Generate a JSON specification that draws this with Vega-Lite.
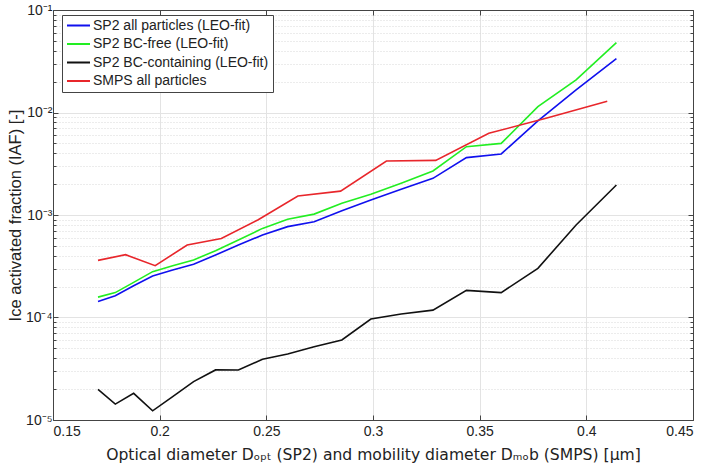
{
  "$schema": "https://vega.github.io/schema/vega-lite/v6.json",
  "width": 640,
  "height": 410,
  "autosize": {"type": "none"},
  "padding": {"left": 53, "top": 10, "right": 16, "bottom": 53},
  "background": "white",
  "config": {
    "view": {"stroke": null},
    "font": "Liberation Sans",
    "axis": {"labelFont": "Liberation Sans", "titleFont": "Liberation Sans", "labelColor": "#222", "titleColor": "#222", "titleFontWeight": "normal", "domainColor": "#444", "tickColor": "#444"}
  },
  "data": {
    "values": [
      {"s": "SP2 all particles (LEO-fit)", "d": 0.1711, "iaf": 0.000143},
      {"s": "SP2 all particles (LEO-fit)", "d": 0.1792, "iaf": 0.000163},
      {"s": "SP2 all particles (LEO-fit)", "d": 0.1878, "iaf": 0.000204},
      {"s": "SP2 all particles (LEO-fit)", "d": 0.1967, "iaf": 0.000254},
      {"s": "SP2 all particles (LEO-fit)", "d": 0.2061, "iaf": 0.00029},
      {"s": "SP2 all particles (LEO-fit)", "d": 0.2159, "iaf": 0.00033},
      {"s": "SP2 all particles (LEO-fit)", "d": 0.2262, "iaf": 0.000407},
      {"s": "SP2 all particles (LEO-fit)", "d": 0.2369, "iaf": 0.00051},
      {"s": "SP2 all particles (LEO-fit)", "d": 0.2482, "iaf": 0.000638},
      {"s": "SP2 all particles (LEO-fit)", "d": 0.26, "iaf": 0.00077},
      {"s": "SP2 all particles (LEO-fit)", "d": 0.2724, "iaf": 0.00086},
      {"s": "SP2 all particles (LEO-fit)", "d": 0.2854, "iaf": 0.0011},
      {"s": "SP2 all particles (LEO-fit)", "d": 0.299, "iaf": 0.0014},
      {"s": "SP2 all particles (LEO-fit)", "d": 0.3132, "iaf": 0.00178},
      {"s": "SP2 all particles (LEO-fit)", "d": 0.3281, "iaf": 0.00228},
      {"s": "SP2 all particles (LEO-fit)", "d": 0.3438, "iaf": 0.00363},
      {"s": "SP2 all particles (LEO-fit)", "d": 0.3601, "iaf": 0.00394},
      {"s": "SP2 all particles (LEO-fit)", "d": 0.3773, "iaf": 0.0083},
      {"s": "SP2 all particles (LEO-fit)", "d": 0.3952, "iaf": 0.0166},
      {"s": "SP2 all particles (LEO-fit)", "d": 0.4141, "iaf": 0.0335},
      {"s": "SP2 BC-free (LEO-fit)", "d": 0.1711, "iaf": 0.000158},
      {"s": "SP2 BC-free (LEO-fit)", "d": 0.1792, "iaf": 0.000175},
      {"s": "SP2 BC-free (LEO-fit)", "d": 0.1878, "iaf": 0.00022},
      {"s": "SP2 BC-free (LEO-fit)", "d": 0.1967, "iaf": 0.00028},
      {"s": "SP2 BC-free (LEO-fit)", "d": 0.2061, "iaf": 0.00032},
      {"s": "SP2 BC-free (LEO-fit)", "d": 0.2159, "iaf": 0.000364},
      {"s": "SP2 BC-free (LEO-fit)", "d": 0.2262, "iaf": 0.000449},
      {"s": "SP2 BC-free (LEO-fit)", "d": 0.2369, "iaf": 0.00057},
      {"s": "SP2 BC-free (LEO-fit)", "d": 0.2482, "iaf": 0.00074},
      {"s": "SP2 BC-free (LEO-fit)", "d": 0.26, "iaf": 0.00091},
      {"s": "SP2 BC-free (LEO-fit)", "d": 0.2724, "iaf": 0.00102},
      {"s": "SP2 BC-free (LEO-fit)", "d": 0.2854, "iaf": 0.0013},
      {"s": "SP2 BC-free (LEO-fit)", "d": 0.299, "iaf": 0.00159},
      {"s": "SP2 BC-free (LEO-fit)", "d": 0.3132, "iaf": 0.00204},
      {"s": "SP2 BC-free (LEO-fit)", "d": 0.3281, "iaf": 0.00269},
      {"s": "SP2 BC-free (LEO-fit)", "d": 0.3438, "iaf": 0.00464},
      {"s": "SP2 BC-free (LEO-fit)", "d": 0.3601, "iaf": 0.005},
      {"s": "SP2 BC-free (LEO-fit)", "d": 0.3773, "iaf": 0.0114},
      {"s": "SP2 BC-free (LEO-fit)", "d": 0.3952, "iaf": 0.0208},
      {"s": "SP2 BC-free (LEO-fit)", "d": 0.4141, "iaf": 0.048},
      {"s": "SP2 BC-containing (LEO-fit)", "d": 0.1711, "iaf": 0.0000199},
      {"s": "SP2 BC-containing (LEO-fit)", "d": 0.1792, "iaf": 0.0000143},
      {"s": "SP2 BC-containing (LEO-fit)", "d": 0.1878, "iaf": 0.0000182},
      {"s": "SP2 BC-containing (LEO-fit)", "d": 0.1967, "iaf": 0.0000123},
      {"s": "SP2 BC-containing (LEO-fit)", "d": 0.2061, "iaf": 0.0000169},
      {"s": "SP2 BC-containing (LEO-fit)", "d": 0.2159, "iaf": 0.0000237},
      {"s": "SP2 BC-containing (LEO-fit)", "d": 0.2262, "iaf": 0.0000308},
      {"s": "SP2 BC-containing (LEO-fit)", "d": 0.2369, "iaf": 0.0000307},
      {"s": "SP2 BC-containing (LEO-fit)", "d": 0.2482, "iaf": 0.0000391},
      {"s": "SP2 BC-containing (LEO-fit)", "d": 0.26, "iaf": 0.000044},
      {"s": "SP2 BC-containing (LEO-fit)", "d": 0.2724, "iaf": 0.0000519},
      {"s": "SP2 BC-containing (LEO-fit)", "d": 0.2854, "iaf": 0.0000603},
      {"s": "SP2 BC-containing (LEO-fit)", "d": 0.299, "iaf": 0.0000966},
      {"s": "SP2 BC-containing (LEO-fit)", "d": 0.3132, "iaf": 0.000108},
      {"s": "SP2 BC-containing (LEO-fit)", "d": 0.3281, "iaf": 0.000118},
      {"s": "SP2 BC-containing (LEO-fit)", "d": 0.3438, "iaf": 0.000184},
      {"s": "SP2 BC-containing (LEO-fit)", "d": 0.3601, "iaf": 0.000175},
      {"s": "SP2 BC-containing (LEO-fit)", "d": 0.3773, "iaf": 0.000302},
      {"s": "SP2 BC-containing (LEO-fit)", "d": 0.3952, "iaf": 0.000798},
      {"s": "SP2 BC-containing (LEO-fit)", "d": 0.4141, "iaf": 0.00196},
      {"s": "SMPS all particles", "d": 0.1711, "iaf": 0.000361},
      {"s": "SMPS all particles", "d": 0.184, "iaf": 0.00041},
      {"s": "SMPS all particles", "d": 0.1979, "iaf": 0.00032},
      {"s": "SMPS all particles", "d": 0.2129, "iaf": 0.00051},
      {"s": "SMPS all particles", "d": 0.2289, "iaf": 0.00059},
      {"s": "SMPS all particles", "d": 0.2462, "iaf": 0.0009},
      {"s": "SMPS all particles", "d": 0.2648, "iaf": 0.00153},
      {"s": "SMPS all particles", "d": 0.2848, "iaf": 0.00171},
      {"s": "SMPS all particles", "d": 0.3063, "iaf": 0.00336},
      {"s": "SMPS all particles", "d": 0.3294, "iaf": 0.00341},
      {"s": "SMPS all particles", "d": 0.3543, "iaf": 0.00626},
      {"s": "SMPS all particles", "d": 0.3811, "iaf": 0.0088},
      {"s": "SMPS all particles", "d": 0.4098, "iaf": 0.0129}
    ]
  },
  "layer": [
    {
      "mark": {"type": "point", "opacity": 0},
      "encoding": {
        "x": {"field": "d", "type": "quantitative", "scale": {"domain": [0.15, 0.45], "nice": false, "zero": false},
          "axis": {"orient": "top", "values": [0.15, 0.2, 0.25, 0.3, 0.35, 0.4, 0.45], "labels": false, "grid": false, "tickSize": -5, "title": null, "domainColor": "#444"}},
        "y": {"field": "iaf", "type": "quantitative", "scale": {"type": "log", "domain": [0.00001, 0.1], "nice": false},
          "axis": {"orient": "right", "values": [0.00001, 0.00002, 0.00003, 0.00004, 0.00005, 0.00006, 0.00007, 0.00008, 0.00009, 0.0001, 0.0002, 0.0003, 0.0004, 0.0005, 0.0006, 0.0007, 0.0008, 0.0009, 0.001, 0.002, 0.003, 0.004, 0.005, 0.006, 0.007, 0.008, 0.009, 0.01, 0.02, 0.03, 0.04, 0.05, 0.06, 0.07, 0.08, 0.09, 0.1],
            "labels": false, "grid": false, "title": null,
            "tickSize": {"condition": {"test": "datum.value == 0.1 || datum.value == 0.01 || datum.value == 0.001 || datum.value == 0.0001 || datum.value == 0.00001", "value": -5}, "value": -3}}}
      }
    },
    {
      "mark": {"type": "line", "strokeWidth": 1.6},
      "encoding": {
        "x": {"field": "d", "type": "quantitative", "scale": {"domain": [0.15, 0.45], "nice": false, "zero": false},
          "axis": {"orient": "bottom", "values": [0.15, 0.2, 0.25, 0.3, 0.35, 0.4, 0.45], "format": ".2~f", "labelFontSize": 14, "labelPadding": 9, "tickSize": -5,
            "grid": true, "gridColor": "#e3e3e3", "gridWidth": 1,
            "title": "Optical diameter Dₒₚₜ (SP2) and mobility diameter Dₘₒb (SMPS) [µm]", "titleFont": "DejaVu Sans", "titleFontSize": 15.6, "titlePadding": 9}},
        "y": {"field": "iaf", "type": "quantitative", "scale": {"type": "log", "domain": [0.00001, 0.1], "nice": false},
          "axis": {"orient": "left", "values": [0.00001, 0.00002, 0.00003, 0.00004, 0.00005, 0.00006, 0.00007, 0.00008, 0.00009, 0.0001, 0.0002, 0.0003, 0.0004, 0.0005, 0.0006, 0.0007, 0.0008, 0.0009, 0.001, 0.002, 0.003, 0.004, 0.005, 0.006, 0.007, 0.008, 0.009, 0.01, 0.02, 0.03, 0.04, 0.05, 0.06, 0.07, 0.08, 0.09, 0.1],
            "labelExpr": "datum.value == 0.1 ? '10⁻¹' : datum.value == 0.01 ? '10⁻²' : datum.value == 0.001 ? '10⁻³' : datum.value == 0.0001 ? '10⁻⁴' : datum.value == 0.00001 ? '10⁻⁵' : ''",
            "labelFontSize": 14, "labelPadding": 6,
            "tickSize": {"condition": {"test": "datum.value == 0.1 || datum.value == 0.01 || datum.value == 0.001 || datum.value == 0.0001 || datum.value == 0.00001", "value": -5}, "value": -3},
            "grid": true,
            "gridColor": {"condition": {"test": "datum.value == 0.1 || datum.value == 0.01 || datum.value == 0.001 || datum.value == 0.0001 || datum.value == 0.00001", "value": "#e3e3e3"}, "value": "#d8d8d8"},
            "gridDash": {"condition": {"test": "datum.value == 0.1 || datum.value == 0.01 || datum.value == 0.001 || datum.value == 0.0001 || datum.value == 0.00001", "value": []}, "value": [1, 2]},
            "title": "Ice activated fraction (IAF) [-]", "titleFontSize": 16.5, "titlePadding": 2}},
        "color": {"field": "s", "type": "nominal",
          "scale": {"domain": ["SP2 all particles (LEO-fit)", "SP2 BC-free (LEO-fit)", "SP2 BC-containing (LEO-fit)", "SMPS all particles"], "range": ["#1010ee", "#22ee22", "#111111", "#e8262b"]},
          "legend": {"orient": "none", "legendX": 9, "legendY": 5, "title": null, "symbolType": "stroke", "symbolSize": 529, "symbolStrokeWidth": 1.8, "clipHeight": 13, "rowPadding": 3.5,
            "labelFontSize": 14, "labelFont": "Liberation Sans", "labelColor": "#222", "labelLimit": 400, "strokeColor": "#444", "fillColor": "white", "padding": 4, "labelOffset": 2}}
      }
    }
  ],
  "resolve": {"axis": {"x": "independent", "y": "independent"}}
}
